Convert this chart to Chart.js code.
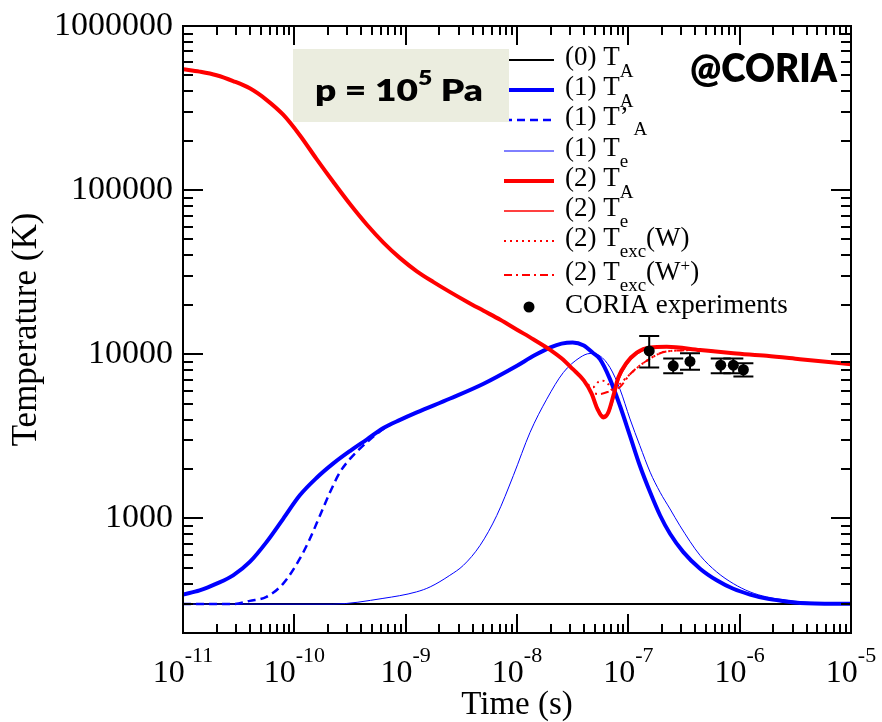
<!DOCTYPE html>
<html>
<head>
<meta charset="utf-8">
<script src="https://cdn.jsdelivr.net/npm/chart.js@4.4.0/dist/chart.umd.min.js"></script>
<style>
  html, body { margin: 0; padding: 0; background: #fff; }
  canvas { display: block; }
</style>
</head>
<body>
<canvas id="chart" width="882" height="722"></canvas>
<script>
// values (time in s, temperature in K)
const timeBase = [1e-11, 1e-5];
const tempBase = [300, 300];

const timeBlueTA = [1.00e-11, 1.41e-11, 2.00e-11, 2.82e-11, 3.98e-11, 5.62e-11, 7.94e-11, 1.12e-10, 1.58e-10, 2.24e-10,
  3.16e-10, 4.47e-10, 6.31e-10, 8.91e-10, 1.26e-9, 2.51e-9, 5.01e-9, 1.00e-8, 1.41e-8, 2.00e-8,
  2.51e-8, 3.16e-8, 3.98e-8, 4.79e-8, 5.56e-8, 6.84e-8, 8.41e-8, 1.035e-7, 1.27e-7, 1.57e-7,
  1.93e-7, 2.37e-7, 3.12e-7, 4.41e-7, 6.22e-7, 8.77e-7, 1.24e-6, 1.75e-6, 2.47e-6, 3.48e-6, 1.00e-5];
const tempBlueTA = [343, 364, 400, 449, 542, 716, 993, 1380, 1760, 2160,
  2570, 3020, 3550, 3980, 4420, 5370, 6610, 8510, 9770, 11000,
  11600, 11800, 11300, 10200, 9330, 7050, 4850, 3180, 2090, 1440,
  1040, 805, 622, 493, 419, 372, 343, 324, 313, 305, 301];

const timeBlueTAp = [1.00e-11, 2.82e-11, 3.98e-11, 5.62e-11, 7.94e-11, 1.12e-10, 1.38e-10, 1.70e-10, 2.09e-10, 2.57e-10,
  3.16e-10, 4.47e-10, 6.31e-10, 8.91e-10, 1.26e-9];
const tempBlueTAp = [300, 300, 314, 332, 400, 567, 750, 1040, 1440, 1910,
  2300, 2900, 3500, 3980, 4420];

const timeBlueTe = [1.00e-11, 2.22e-10, 6.25e-10, 1.25e-9, 1.66e-9, 2.49e-9, 3.30e-9, 4.66e-9, 6.58e-9, 9.27e-9,
  1.31e-8, 1.85e-8, 2.61e-8, 3.68e-8, 4.53e-8, 5.56e-8, 6.84e-8, 8.41e-8, 1.035e-7, 1.27e-7,
  1.57e-7, 1.93e-7, 2.37e-7, 2.91e-7, 4.41e-7, 6.22e-7, 8.77e-7, 1.24e-6, 1.75e-6, 3.48e-6, 1.00e-5];
const tempBlueTe = [300, 300, 325, 356, 382, 449, 517, 684, 1040, 1820,
  3340, 5320, 7740, 9550, 10100, 9770, 8300, 6120, 4030, 2770,
  1910, 1440, 1140, 900, 594, 471, 400, 356, 332, 310, 300];

const timeRed = [1.00e-11, 1.41e-11, 2.00e-11, 2.82e-11, 3.98e-11, 5.62e-11, 7.94e-11, 1.12e-10, 1.58e-10, 2.24e-10,
  3.16e-10, 4.47e-10, 6.31e-10, 8.91e-10, 1.26e-9, 1.78e-9, 2.51e-9, 3.55e-9, 5.01e-9, 7.08e-9,
  1.00e-8, 1.41e-8, 2.00e-8, 2.51e-8, 3.16e-8, 3.98e-8, 4.68e-8, 5.25e-8, 5.96e-8, 6.61e-8,
  7.33e-8, 8.13e-8, 9.66e-8, 1.19e-7, 1.57e-7, 2.21e-7, 4.41e-7, 8.77e-7, 1.75e-6, 3.48e-6, 1.00e-5];
const tempRedTA = [546000, 527000, 501000, 462000, 417000, 355000, 288000, 216000, 155000, 112000,
  82200, 61700, 47900, 38500, 32000, 27500, 23900, 20900, 18400, 16200,
  14100, 12300, 10600, 9440, 8130, 6920, 5750, 4680, 4120, 4420,
  5570, 7210, 8890, 10230, 11000, 11100, 10600, 10140, 9770, 9330, 8690];
const tempRedTe = [546000, 527000, 501000, 462000, 417000, 355000, 288000, 216000, 155000, 112000,
  82200, 61700, 47900, 38500, 32000, 27500, 23900, 20900, 18400, 16200,
  14100, 12300, 10600, 9440, 8130, 7000, 5850, 4800, 4230, 4350,
  5300, 6900, 8600, 10000, 11000, 11100, 10600, 10140, 9770, 9330, 8690];

const timeRedExcW = [1.00e-8, 1.41e-8, 2.00e-8, 2.51e-8, 3.16e-8, 3.98e-8, 4.82e-8, 5.35e-8, 5.93e-8, 6.58e-8,
  7.30e-8, 8.09e-8, 1.035e-7, 1.44e-7, 2.21e-7, 4.41e-7, 8.77e-7, 1.75e-6, 3.48e-6, 1.00e-5];
const tempRedExcW = [14100, 12300, 10600, 9440, 8130, 6920, 6290, 6760, 6880, 6580,
  5990, 6410, 7550, 9060, 10400, 10600, 10140, 9770, 9330, 8690];

const timeRedExcWp = [1.00e-8, 1.41e-8, 2.00e-8, 2.51e-8, 3.16e-8, 3.98e-8, 4.68e-8, 5.56e-8, 6.84e-8, 8.41e-8,
  1.035e-7, 1.44e-7, 2.21e-7, 4.41e-7, 8.77e-7, 1.75e-6, 3.48e-6, 1.00e-5];
const tempRedExcWp = [14100, 12300, 10600, 9440, 8130, 6920, 5900, 5720, 5960, 6310,
  7550, 9060, 10400, 10600, 10140, 9770, 9330, 8690];

const coriaTime = [1.54e-7, 2.53e-7, 3.58e-7, 6.76e-7, 8.77e-7, 1.08e-6];
const coriaTemp = [10470, 8490, 9040, 8570, 8570, 8040];
const coriaLow = [8300, 7660, 8040, 7660, 7660, 7310];
const coriaHigh = [12900, 9420, 10140, 9420, 9420, 8810];

const xTickExps = [-11, -10, -9, -8, -7, -6, -5];
const yTickLabels = [1000, 10000, 100000, 1000000];

const SERIF = '"Liberation Serif", "Times New Roman", serif';
const SANS = 'Lato, "Open Sans", sans-serif';

const pts = (ts, vs) => ts.map((t, i) => ({ x: t, y: vs[i] }));

function drawParts(ctx, x, y, parts, family, weight) {
  let cx = x;
  parts.forEach(([text, size, dy]) => {
    ctx.font = `${weight || 'normal'} ${size}px ${family}`;
    ctx.fillText(text, cx, y + (dy || 0));
    cx += ctx.measureText(text).width;
  });
  return cx - x;
}

function partsWidth(ctx, parts, family, weight) {
  let w = 0;
  parts.forEach(([text, size]) => {
    ctx.font = `${weight || 'normal'} ${size}px ${family}`;
    w += ctx.measureText(text).width;
  });
  return w;
}

function drawFitted(ctx, parts, x, y, width) {
  const w = partsWidth(ctx, parts, SANS, '800');
  ctx.save();
  ctx.translate(x, y);
  ctx.scale(width / w, 1);
  drawParts(ctx, 0, 0, parts, SANS, '800');
  ctx.restore();
}

const legendBaselines = [65, 95, 125, 156, 186, 216, 246, 280, 313];

const plotDecor = {
  id: 'plotDecor',
  afterDatasetsDraw(chart) {
    const { ctx, scales: { x, y } } = chart;
    ctx.save();
    ctx.strokeStyle = '#000';
    ctx.lineWidth = 2;
    coriaTime.forEach((t, i) => {
      const px = x.getPixelForValue(t);
      const top = y.getPixelForValue(coriaHigh[i]);
      const bot = y.getPixelForValue(coriaLow[i]);
      ctx.beginPath();
      ctx.moveTo(px, top); ctx.lineTo(px, bot);
      ctx.moveTo(px - 10, top); ctx.lineTo(px + 10, top);
      ctx.moveTo(px - 10, bot); ctx.lineTo(px + 10, bot);
      ctx.stroke();
    });
    ctx.restore();
  },
  afterDraw(chart) {
    const { ctx, chartArea: a, scales: { x, y } } = chart;
    ctx.save();
    ctx.fillStyle = '#000';
    ctx.strokeStyle = '#000';
    ctx.lineWidth = 2;
    ctx.strokeRect(a.left, a.top, a.right - a.left, a.bottom - a.top);

    // inward ticks on all four sides
    ctx.beginPath();
    for (let e = -11; e <= -5; e++) {
      for (let m = 1; m <= 9; m++) {
        const v = m * Math.pow(10, e);
        if (v > x.max * 1.001) break;
        const px = Math.round(x.getPixelForValue(v));
        const len = m === 1 ? 19 : 9;
        ctx.moveTo(px, a.bottom); ctx.lineTo(px, a.bottom - len);
        ctx.moveTo(px, a.top); ctx.lineTo(px, a.top + len);
      }
    }
    for (let e = 2; e <= 6; e++) {
      for (let m = 1; m <= 9; m++) {
        const v = m * Math.pow(10, e);
        if (v < y.min * 0.999) continue;
        if (v > y.max * 1.001) break;
        const py = Math.round(y.getPixelForValue(v));
        const len = m === 1 ? 20 : 10;
        ctx.moveTo(a.left, py); ctx.lineTo(a.left + len, py);
        ctx.moveTo(a.right, py); ctx.lineTo(a.right - len, py);
      }
    }
    ctx.stroke();

    // y tick labels
    ctx.font = `34px ${SERIF}`;
    ctx.textAlign = 'right';
    ctx.textBaseline = 'middle';
    yTickLabels.forEach(v => ctx.fillText(String(v), a.left - 10, y.getPixelForValue(v)));

    // x tick labels 10^n
    ctx.textAlign = 'left';
    ctx.textBaseline = 'alphabetic';
    xTickExps.forEach(e => {
      const parts = [['10', 32, 0], [String(e), 22, -20]];
      const w = partsWidth(ctx, parts, SERIF);
      drawParts(ctx, x.getPixelForValue(Math.pow(10, e)) - w / 2, 682, parts, SERIF);
    });

    // axis titles
    ctx.textAlign = 'center';
    ctx.font = `33px ${SERIF}`;
    ctx.fillText('Time (s)', (a.left + a.right) / 2, 714);
    ctx.save();
    ctx.translate(36, (a.top + a.bottom) / 2);
    ctx.rotate(-Math.PI / 2);
    ctx.font = `35px ${SERIF}`;
    ctx.fillText('Temperature (K)', 0, 0);
    ctx.restore();

    // legend
    ctx.textAlign = 'left';
    chart.data.datasets.forEach((ds, i) => {
      const base = legendBaselines[i];
      const ly = base - 5;
      ctx.save();
      if (ds.showLine === false) {
        ctx.fillStyle = ds.pointBackgroundColor;
        ctx.beginPath();
        ctx.arc(529, base - 6, 5.5, 0, Math.PI * 2);
        ctx.fill();
      } else {
        ctx.strokeStyle = ds.borderColor;
        ctx.lineWidth = ds.borderWidth;
        ctx.setLineDash(ds.borderDash || []);
        ctx.beginPath();
        ctx.moveTo(504, ly);
        ctx.lineTo(554, ly);
        ctx.stroke();
      }
      ctx.restore();
      drawParts(ctx, 565, base, ds.richLabel, SERIF);
    });

    // pressure box
    ctx.fillStyle = '#ebeddf';
    ctx.fillRect(293, 49, 216, 73);
    ctx.fillStyle = '#000';
    drawFitted(ctx, [['p = 10', 30, 0], ['5', 20, -16], [' Pa', 30, 0]], 315, 101, 168);

    drawFitted(ctx, [['@CORIA', 40, 0]], 690, 82, 147);
    ctx.restore();
  }
};

const ctxChart = document.getElementById('chart').getContext('2d');
new Chart(ctxChart, {
  type: 'line',
  data: {
    datasets: [
      { label: '(0) T_A', richLabel: [['(0) T', 27], ['A', 19, 12]],
        data: pts(timeBase, tempBase), borderColor: '#000000', borderWidth: 2, order: 8 },
      { label: '(1) T_A', richLabel: [['(1) T', 27], ['A', 19, 12]],
        data: pts(timeBlueTA, tempBlueTA), borderColor: '#0000ff', borderWidth: 4, order: 5 },
      { label: "(1) T'_A", richLabel: [['(1) T\u2019', 27], [' A', 19, 10]],
        data: pts(timeBlueTAp, tempBlueTAp), borderColor: '#0000ff', borderWidth: 2.5, borderDash: [8, 5], order: 6 },
      { label: '(1) T_e', richLabel: [['(1) T', 27], ['e', 19, 11]],
        data: pts(timeBlueTe, tempBlueTe), borderColor: '#0000ff', borderWidth: 1, order: 7 },
      { label: '(2) T_A', richLabel: [['(2) T', 27], ['A', 19, 12]],
        data: pts(timeRed, tempRedTA), borderColor: '#ff0000', borderWidth: 4, order: 1 },
      { label: '(2) T_e', richLabel: [['(2) T', 27], ['e', 19, 11]],
        data: pts(timeRed, tempRedTe), borderColor: '#ff0000', borderWidth: 1.5, order: 2 },
      { label: '(2) T_exc(W)', richLabel: [['(2) T', 27], ['exc', 19, 11], ['(W)', 27]],
        data: pts(timeRedExcW, tempRedExcW), borderColor: '#ff0000', borderWidth: 2, borderDash: [2, 4], order: 3 },
      { label: '(2) T_exc(W+)', richLabel: [['(2) T', 27], ['exc', 19, 11], ['(W', 27], ['+', 17, -9], [')', 27]],
        data: pts(timeRedExcWp, tempRedExcWp), borderColor: '#ff0000', borderWidth: 2, borderDash: [8, 4, 2, 4], order: 4 },
      { label: 'CORIA experiments', richLabel: [['CORIA experiments', 27]],
        data: pts(coriaTime, coriaTemp), showLine: false, pointRadius: 5.5,
        pointBackgroundColor: '#000000', pointBorderWidth: 0, borderColor: '#000000', order: 0 }
    ]
  },
  options: {
    responsive: false,
    animation: false,
    layout: { padding: { left: 183, top: 26, right: 31, bottom: 89 } },
    elements: {
      point: { radius: 0 },
      line: { cubicInterpolationMode: 'monotone', borderCapStyle: 'butt', borderJoinStyle: 'round' }
    },
    plugins: {
      legend: { display: false },
      tooltip: { enabled: false }
    },
    scales: {
      x: { type: 'logarithmic', min: 1e-11, max: 1e-5, display: false },
      y: { type: 'logarithmic', min: 200, max: 1e6, display: false }
    }
  },
  plugins: [plotDecor]
});
</script>
</body>
</html>
